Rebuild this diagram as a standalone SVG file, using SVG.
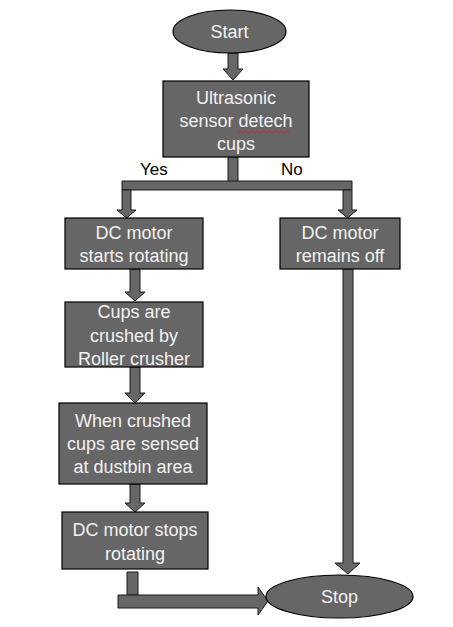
<svg xmlns="http://www.w3.org/2000/svg" width="453" height="627" viewBox="0 0 453 627">
<style>
.n{fill:#666666;stroke:#000;stroke-width:1.2}
.c{fill:#666666;stroke:#1a1a1a;stroke-width:1}
.t{font-family:"Liberation Sans",Arial,sans-serif;font-size:18px;fill:#f2f2f2;text-anchor:middle}
.l{font-family:"Liberation Sans",Arial,sans-serif;font-size:17px;fill:#000}
</style>
<rect width="453" height="627" fill="#fff"/>
<g id="connectors">
  <path class="c" d="M228,53 V69 H223 L233,80 L243,69 H238 V53 Z"/>
  <path class="c" d="M228,157 H238 V182 H228 Z"/>
  <path class="c" d="M122,181 H352 V190 H122 Z"/>
  <path class="c" d="M122,190 V210 H117 L126.5,218 L136,210 H131 V190 Z"/>
  <path class="c" d="M343,190 V210 H338 L347.5,218 L357,210 H352 V190 Z"/>
  <path class="c" d="M130,269 V292 H125 L135,301 L145,292 H140 V269 Z"/>
  <path class="c" d="M130,367 V393 H125 L135,403 L145,393 H140 V367 Z"/>
  <path class="c" d="M130,484 V503 H125 L135,512 L145,503 H140 V484 Z"/>
  <path class="c" d="M343,269 V563 H335 L348,574 L360,563 H353 V269 Z"/>
  <path class="c" d="M127,572 H138 V595 H127 Z"/>
  <path class="c" d="M118,595 H258 V587 L268,601 L258,615 V608 H118 Z"/>
  <text class="l" x="140" y="175">Yes</text>
  <text class="l" x="281" y="175">No</text>
</g>
<g id="start">
  <ellipse class="n" cx="229.5" cy="31.5" rx="56.5" ry="21.5"/>
  <text class="t" x="229.5" y="38">Start</text>
</g>
<g id="ultrasonic">
  <rect class="n" x="163" y="81" width="146" height="76"/>
  <text class="t" x="236" y="104">Ultrasonic</text>
  <text class="t" x="236" y="127">sensor detech</text>
  <text class="t" x="236" y="150">cups</text>
  <path d="M238,132 q1.5,-2 3,0 t3,0 t3,0 t3,0 t3,0 t3,0 t3,0 t3,0 t3,0 t3,0 t3,0 t3,0 t3,0 t3,0 t3,0 t3,0 t3,0" fill="none" stroke="#d02020" stroke-width="0.8"/>
</g>
<g id="dc-start">
  <rect class="n" x="65" y="218" width="138" height="51"/>
  <text class="t" x="134" y="239">DC motor</text>
  <text class="t" x="134" y="262">starts rotating</text>
</g>
<g id="dc-off">
  <rect class="n" x="280" y="218" width="120" height="51"/>
  <text class="t" x="340" y="239">DC motor</text>
  <text class="t" x="340" y="262">remains off</text>
</g>
<g id="cups-crushed">
  <rect class="n" x="65" y="302" width="138" height="65"/>
  <text class="t" x="134" y="318">Cups are</text>
  <text class="t" x="134" y="342">crushed by</text>
  <text class="t" x="134" y="365">Roller crusher</text>
</g>
<g id="sensed">
  <rect class="n" x="59" y="403" width="148" height="81"/>
  <text class="t" x="133" y="427">When crushed</text>
  <text class="t" x="133" y="450">cups are sensed</text>
  <text class="t" x="133" y="473">at dustbin area</text>
</g>
<g id="dc-stop">
  <rect class="n" x="62" y="512" width="146" height="57"/>
  <text class="t" x="135" y="536">DC motor stops</text>
  <text class="t" x="135" y="560">rotating</text>
</g>
<g id="stop">
  <ellipse class="n" cx="339.5" cy="596.5" rx="73.5" ry="21.5"/>
  <text class="t" x="339.5" y="603">Stop</text>
</g>
</svg>
